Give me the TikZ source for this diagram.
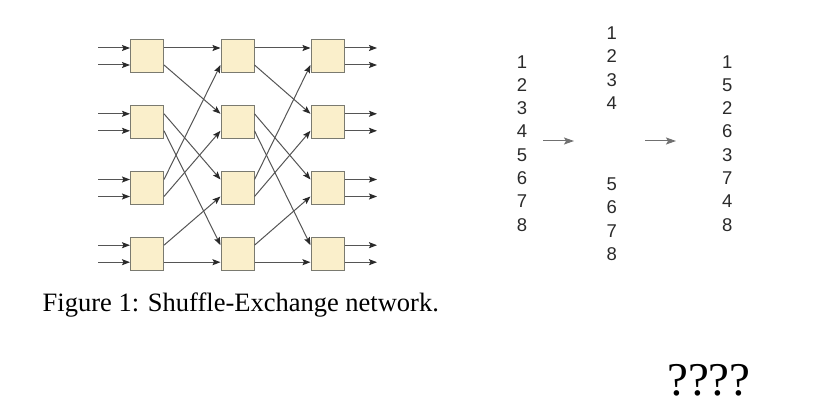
\documentclass[tikz,border=0pt]{standalone}
\usepackage{fontspec}
\setmainfont{Liberation Serif}
\newfontfamily\numfont{Liberation Sans}
\usetikzlibrary{arrows.meta}
\definecolor{boxfill}{HTML}{FAEFCB}
\definecolor{boxdraw}{HTML}{7A7A70}
\definecolor{wire}{HTML}{555555}
\definecolor{tipcol}{HTML}{2A2A2A}
\definecolor{numcol}{HTML}{2A2A2A}
\definecolor{arrcol}{HTML}{707070}
\tikzset{
  swbox/.style={draw=boxdraw, fill=boxfill, line width=1pt, minimum width=33pt, minimum height=33pt, inner sep=0pt},
  wireline/.style={draw=wire, line width=1pt, -{Stealth[length=8pt,width=6pt,inset=1.5pt,color=tipcol]}},
  numtxt/.style={font=\numfont\fontsize{18.5}{22}\selectfont, text=numcol, inner sep=0pt, anchor=center},
  grayarrow/.style={draw=arrcol, line width=1pt, -{Stealth[length=10pt,width=7pt,inset=2pt]}}
}
\begin{document}
\begin{tikzpicture}[x=1pt,y=-1pt]
\useasboundingbox (0,0) rectangle (825,406);
% boxes
\foreach \c/\cx in {1/147,2/237.5,3/327.5}{
  \foreach \r/\ry in {1/56.5,2/122.3,3/188,4/253.7}{
    \node[swbox] (b\c\r) at (\cx,\ry) {};
  }
}
% inputs and outputs
\foreach \r/\ry in {1/56.5,2/122.3,3/188,4/253.7}{
  \coordinate (inA\r) at (98,\ry-8.5);
  \coordinate (inB\r) at (98,\ry+8.5);
  \coordinate (outA\r) at (377,\ry-8.5);
  \coordinate (outB\r) at (377,\ry+8.5);
  \draw[wireline] (inA\r) -- ([yshift=8.5pt]b1\r.west);
  \draw[wireline] (inB\r) -- ([yshift=-8.5pt]b1\r.west);
  \draw[wireline] ([yshift=8.5pt]b3\r.east) -- (outA\r);
  \draw[wireline] ([yshift=-8.5pt]b3\r.east) -- (outB\r);
}
% perfect shuffle between stages
\foreach \s/\t in {1/2,2/3}{
  \foreach \j/\k in {0/0,1/2,2/4,3/6,4/1,5/3,6/5,7/7}{
    \pgfmathtruncatemacro{\bj}{div(\j,2)+1}
    \pgfmathsetmacro{\pj}{8.5-17*mod(\j,2)}
    \pgfmathtruncatemacro{\bk}{div(\k,2)+1}
    \pgfmathsetmacro{\pk}{8.5-17*mod(\k,2)}
    \draw[wireline] ([yshift=\pj pt]b\s\bj.east) -- ([yshift=\pk pt]b\t\bk.west);
  }
}
% caption
\node[anchor=base west, inner sep=0pt, font=\fontsize{26.5}{30}\selectfont] (cap) at (42.5,312) {Figure 1: Shuffle-Exchange network.};
% number columns
\foreach \n [count=\i] in {1,...,8}{
  \node[numtxt] (l\i) at (522,{61.7+23.3*(\i-1)}) {\n};
}
\foreach \n/\y [count=\i] in {1/33.3,2/56.5,3/79.8,4/103,5/184,6/207.5,7/231,8/254.5}{
  \node[numtxt] (m\i) at (611.7,\y) {\n};
}
\foreach \n [count=\i] in {1,5,2,6,3,7,4,8}{
  \node[numtxt] (r\i) at (727.3,{61.7+23.3*(\i-1)}) {\n};
}
\coordinate (a1s) at (543,141);
\coordinate (a1e) at (574,141);
\coordinate (a2s) at (645,141);
\coordinate (a2e) at (676,141);
\draw[grayarrow] (a1s) -- (a1e);
\draw[grayarrow] (a2s) -- (a2e);
% question marks
\node[anchor=base west, inner sep=0pt, font=\fontsize{47}{52}\selectfont] (qq) at (667,395) {????};
\end{tikzpicture}
\end{document}
